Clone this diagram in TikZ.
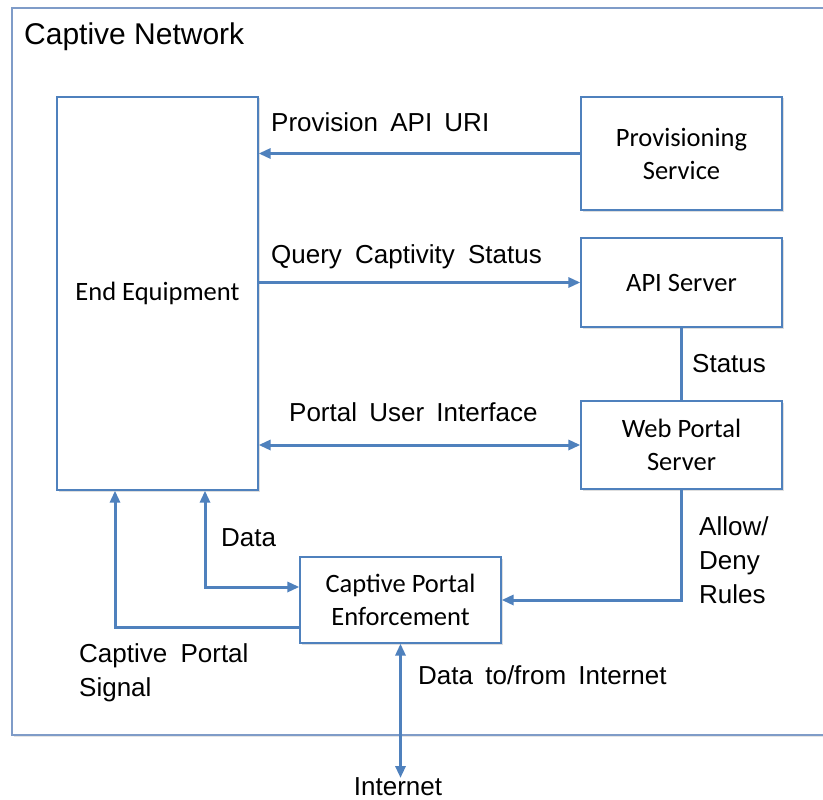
\documentclass[tikz,border=0pt]{standalone}
\usepackage{fontspec}
\setmainfont{Liberation Sans}
\newfontfamily\boxfont{Carlito}
\usetikzlibrary{arrows.meta,shadows}
\definecolor{linkblue}{HTML}{4F81BD}
\definecolor{framegray}{HTML}{7F9CC8}
\begin{document}
\begin{tikzpicture}[x=1pt,y=-1pt,
  box/.style={draw=linkblue,line width=1.3pt,fill=white,inner sep=0pt,
    minimum width=201pt,align=center,
    font=\boxfont\fontsize{26.5}{33}\selectfont,
    drop shadow={shadow xshift=1.5pt,shadow yshift=-1.5pt,fill=black!25}},
  conn/.style={draw=linkblue,line width=3pt},
  tip/.style={-{Triangle[length=12pt,width=10pt]}},
  dtip/.style={{Triangle[length=12pt,width=10pt]}-{Triangle[length=12pt,width=10pt]}},
  lbl/.style={inner sep=0pt,anchor=west,align=left,
    font=\fontsize{26}{34}\selectfont},
]
\useasboundingbox (0,0) rectangle (823,800);
\fill[white] (0,0) rectangle (823,800);
% outer frame
\draw[framegray,line width=1.3pt,fill=white,
  drop shadow={shadow xshift=1.5pt,shadow yshift=-1.5pt,fill=black!20}]
  (12,8) rectangle (840,735);
\node[lbl,font=\fontsize{30}{34}\selectfont] (title) at (24,37) {Captive Network};

% boxes
\node[box,minimum height=393pt] (ee) at (157.5,293.5) {End Equipment};
\node[box,minimum height=113pt] (prov) at (681.5,153.5) {Provisioning\\Service};
\node[box,minimum height=89pt] (api) at (681.5,282.5) {API Server};
\node[box,minimum height=88pt] (wps) at (681.5,445) {Web Portal\\Server};
\node[box,minimum height=86pt] (cpe) at (400.5,600) {Captive Portal\\Enforcement};
\coordinate (inet) at (400.5,778);

% connectors
\draw[conn,tip] (prov.west) -- (ee.east |- prov.west);
\draw[conn,tip] (ee.east |- api.west) -- (api.west);
\draw[conn,dtip] (ee.east |- wps.west) -- (wps.west);
\draw[conn] (api.south) -- (wps.north);
\draw[conn,tip] (wps.south) |- (cpe.east);
\draw[conn,dtip] ([yshift=13pt]cpe.west) -| ([xshift=47.5pt]ee.south);
\draw[conn,tip] ([yshift=-27pt]cpe.west) -| ([xshift=-42.5pt]ee.south);
\draw[conn,dtip] (cpe.south) -- (inet);

% labels
\node[lbl] (l1) at (271,122) {Provision\hspace{5pt} API\hspace{5pt} URI};
\node[lbl] (l2) at (271,257) {Query\hspace{6pt} Captivity\hspace{6pt} Status};
\node[lbl] (l3) at (289,412) {Portal\hspace{5pt} User\hspace{5pt} Interface};
\node[lbl] (l4) at (692,364) {Status};
\node[lbl] (l5) at (699,560) {Allow/\\Deny\\Rules};
\node[lbl] (l6) at (221,538) {Data};
\node[lbl] (l7) at (79,673) {Captive\hspace{6pt} Portal\\Signal};
\node[lbl] (l8) at (418,675) {Data\hspace{5pt} to/from\hspace{5pt} Internet};
\node[inner sep=0pt,font=\fontsize{26}{34}\selectfont] (l9) at (398,787) {Internet};
\end{tikzpicture}
\end{document}
